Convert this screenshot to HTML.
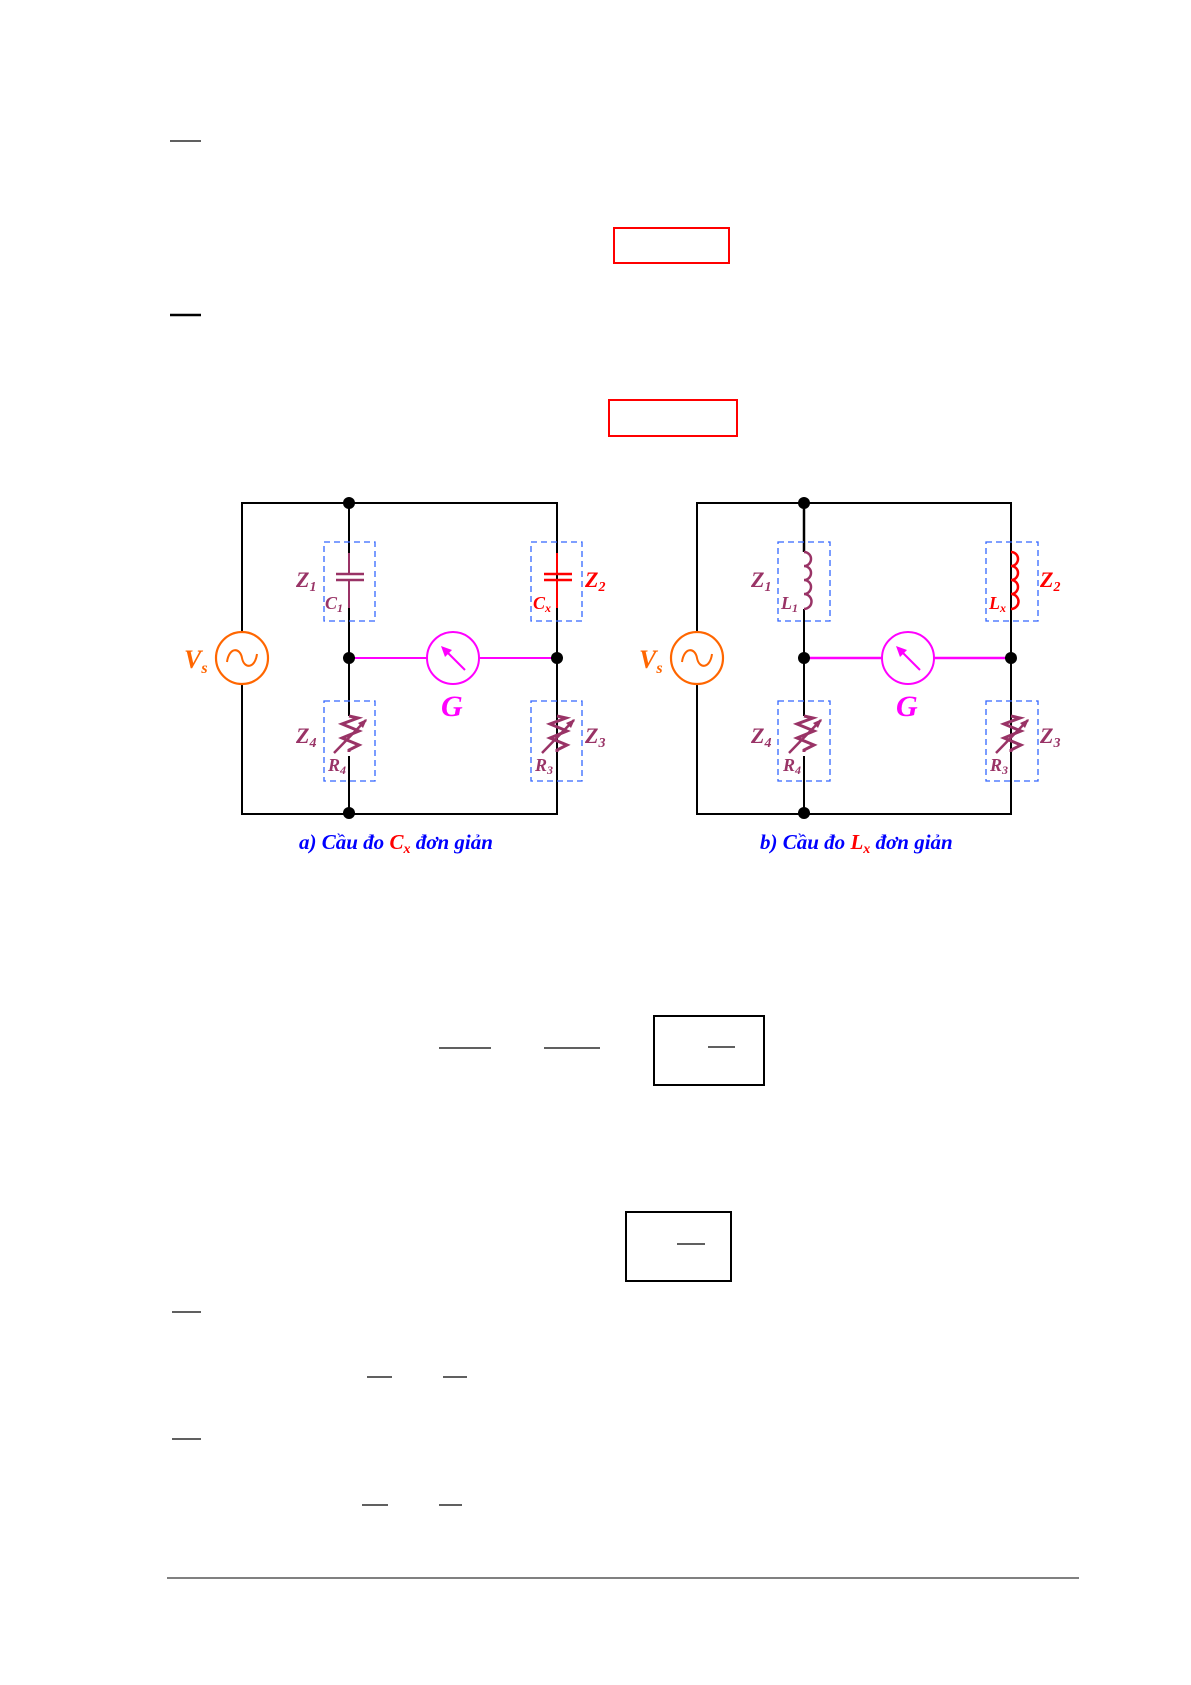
<!DOCTYPE html>
<html><head><meta charset="utf-8"><style>
html,body{margin:0;padding:0;background:#fff;}
svg{display:block;}
text{font-family:"Liberation Serif",serif;font-weight:bold;font-style:italic;}
</style></head><body>
<svg width="1191" height="1685" viewBox="0 0 1191 1685" xmlns="http://www.w3.org/2000/svg">
<line x1="170" y1="141" x2="201" y2="141" stroke="#000" stroke-width="1.2"/>
<rect x="614" y="228" width="115" height="35" fill="none" stroke="#f00" stroke-width="2"/>
<line x1="170" y1="315" x2="201" y2="315" stroke="#000" stroke-width="2.5"/>
<rect x="609" y="400" width="128" height="36" fill="none" stroke="#f00" stroke-width="2"/>

<defs>
<g id="res">
<polyline points="0,-42 9,-40 -7,-34 10,-27 -7,-20 10,-13 0,-8 0,-6" fill="none" stroke="#993366" stroke-width="3"/>
<line x1="-15" y1="-5" x2="17" y2="-38" stroke="#993366" stroke-width="2.5"/>
<polygon points="18,-39 9,-35 14,-30" fill="#993366"/>
</g>
</defs>

<!-- Circuit a -->
<g>
<polyline points="242,632 242,503 557,503 557,814 242,814 242,684" fill="none" stroke="#000" stroke-width="2"/>
<line x1="349" y1="503" x2="349" y2="553" stroke="#000" stroke-width="2"/>
<line x1="349" y1="608" x2="349" y2="716" stroke="#000" stroke-width="2"/>
<line x1="349" y1="756" x2="349" y2="814" stroke="#000" stroke-width="2"/>
<line x1="557" y1="608" x2="557" y2="716" stroke="#000" stroke-width="2"/>
<line x1="349" y1="553" x2="349" y2="574" stroke="#993366" stroke-width="2"/>
<line x1="349" y1="580" x2="349" y2="608" stroke="#993366" stroke-width="2"/>
<line x1="336" y1="574" x2="364" y2="574" stroke="#993366" stroke-width="2.5"/>
<line x1="336" y1="580" x2="364" y2="580" stroke="#993366" stroke-width="2.5"/>
<line x1="557" y1="553" x2="557" y2="574" stroke="#f00" stroke-width="2"/>
<line x1="557" y1="580" x2="557" y2="608" stroke="#f00" stroke-width="2"/>
<line x1="544" y1="574" x2="572" y2="574" stroke="#f00" stroke-width="2.5"/>
<line x1="544" y1="580" x2="572" y2="580" stroke="#f00" stroke-width="2.5"/>
<use href="#res" transform="translate(349,758)"/>
<use href="#res" transform="translate(557,758)"/>
<g fill="none" stroke="#3366ff" stroke-width="1.3" stroke-dasharray="6,4">
<rect x="324" y="542" width="51" height="79"/><rect x="531" y="542" width="51" height="79"/>
<rect x="324" y="701" width="51" height="80"/><rect x="531" y="701" width="51" height="80"/>
</g>
<line x1="349" y1="658" x2="427" y2="658" stroke="#f0f" stroke-width="2"/>
<line x1="479" y1="658" x2="557" y2="658" stroke="#f0f" stroke-width="2"/>
<circle cx="453" cy="658" r="26" fill="#fff" stroke="#f0f" stroke-width="2"/>
<line x1="465" y1="670" x2="443" y2="648" stroke="#f0f" stroke-width="2"/>
<polygon points="441,646 452,650 445,657" fill="#f0f"/>
<circle cx="242" cy="658" r="26" fill="#fff" stroke="#ff6600" stroke-width="2.2"/>
<path d="M227,662 C229,647 240,647 242,658 C244,669 255,669 257,654" fill="none" stroke="#ff6600" stroke-width="2"/>
<circle cx="349" cy="503" r="6"/><circle cx="349" cy="658" r="6"/><circle cx="349" cy="813" r="6"/><circle cx="557" cy="658" r="6"/>
<text x="184" y="668" fill="#ff6600" font-size="26">V<tspan font-size="16" dy="5">s</tspan></text>
<text x="296" y="587" fill="#993366" font-size="22">Z<tspan font-size="14" dy="4">1</tspan></text>
<text x="325" y="609" fill="#993366" font-size="18">C<tspan font-size="12" dy="3">1</tspan></text>
<text x="533" y="609" fill="#f00" font-size="18">C<tspan font-size="12" dy="3">x</tspan></text>
<text x="585" y="587" fill="#f00" font-size="22">Z<tspan font-size="14" dy="4">2</tspan></text>
<text x="296" y="743" fill="#993366" font-size="22">Z<tspan font-size="14" dy="4">4</tspan></text>
<text x="328" y="771" fill="#993366" font-size="18">R<tspan font-size="12" dy="3">4</tspan></text>
<text x="535" y="771" fill="#993366" font-size="18">R<tspan font-size="12" dy="3">3</tspan></text>
<text x="585" y="743" fill="#993366" font-size="22">Z<tspan font-size="14" dy="4">3</tspan></text>
<text x="441" y="716" fill="#f0f" font-size="30">G</text>
<text x="299" y="849" fill="#0000ff" font-size="21">a) Cầu đo <tspan fill="#f00">C<tspan font-size="14" dy="4">x</tspan></tspan><tspan dy="-4"> đơn giản</tspan></text>
</g>

<!-- Circuit b -->
<g>
<polyline points="697,632 697,503 1011,503 1011,814 697,814 697,684" fill="none" stroke="#000" stroke-width="2"/>
<line x1="804" y1="503" x2="804" y2="552" stroke="#000" stroke-width="2.5"/>
<line x1="804" y1="609" x2="804" y2="716" stroke="#000" stroke-width="2"/>
<line x1="804" y1="756" x2="804" y2="814" stroke="#000" stroke-width="2"/>
<line x1="1011" y1="503" x2="1011" y2="552" stroke="#000" stroke-width="2"/>
<line x1="1011" y1="609" x2="1011" y2="716" stroke="#000" stroke-width="2"/>
<path d="M804,552 a7,7 0 0 1 0,14 a7,7 0 0 1 0,14 a7,7 0 0 1 0,14 a7,7 0 0 1 0,15" fill="none" stroke="#993366" stroke-width="2.5"/>
<path d="M1011,552 a7,7 0 0 1 0,14 a7,7 0 0 1 0,14 a7,7 0 0 1 0,14 a7,7 0 0 1 0,15" fill="none" stroke="#f00" stroke-width="2.5"/>
<use href="#res" transform="translate(804,758)"/>
<use href="#res" transform="translate(1011,758)"/>
<g fill="none" stroke="#3366ff" stroke-width="1.3" stroke-dasharray="6,4">
<rect x="778" y="542" width="52" height="79"/><rect x="986" y="542" width="52" height="79"/>
<rect x="778" y="701" width="52" height="80"/><rect x="986" y="701" width="52" height="80"/>
</g>
<line x1="804" y1="658" x2="882" y2="658" stroke="#f0f" stroke-width="2.5"/>
<line x1="934" y1="658" x2="1011" y2="658" stroke="#f0f" stroke-width="2.5"/>
<circle cx="908" cy="658" r="26" fill="#fff" stroke="#f0f" stroke-width="2"/>
<line x1="920" y1="670" x2="898" y2="648" stroke="#f0f" stroke-width="2"/>
<polygon points="896,646 907,650 900,657" fill="#f0f"/>
<circle cx="697" cy="658" r="26" fill="#fff" stroke="#ff6600" stroke-width="2.2"/>
<path d="M682,662 C684,647 695,647 697,658 C699,669 710,669 712,654" fill="none" stroke="#ff6600" stroke-width="2"/>
<circle cx="804" cy="503" r="6"/><circle cx="804" cy="658" r="6"/><circle cx="804" cy="813" r="6"/><circle cx="1011" cy="658" r="6"/>
<text x="639" y="668" fill="#ff6600" font-size="26">V<tspan font-size="16" dy="5">s</tspan></text>
<text x="751" y="587" fill="#993366" font-size="22">Z<tspan font-size="14" dy="4">1</tspan></text>
<text x="781" y="609" fill="#993366" font-size="18">L<tspan font-size="12" dy="3">1</tspan></text>
<text x="989" y="609" fill="#f00" font-size="18">L<tspan font-size="12" dy="3">x</tspan></text>
<text x="1040" y="587" fill="#f00" font-size="22">Z<tspan font-size="14" dy="4">2</tspan></text>
<text x="751" y="743" fill="#993366" font-size="22">Z<tspan font-size="14" dy="4">4</tspan></text>
<text x="783" y="771" fill="#993366" font-size="18">R<tspan font-size="12" dy="3">4</tspan></text>
<text x="990" y="771" fill="#993366" font-size="18">R<tspan font-size="12" dy="3">3</tspan></text>
<text x="1040" y="743" fill="#993366" font-size="22">Z<tspan font-size="14" dy="4">3</tspan></text>
<text x="896" y="716" fill="#f0f" font-size="30">G</text>
<text x="760" y="849" fill="#0000ff" font-size="21">b) Cầu đo <tspan fill="#f00">L<tspan font-size="14" dy="4">x</tspan></tspan><tspan dy="-4"> đơn giản</tspan></text>
</g>

<line x1="439" y1="1048" x2="491" y2="1048" stroke="#000" stroke-width="1.2"/>
<line x1="544" y1="1048" x2="600" y2="1048" stroke="#000" stroke-width="1.2"/>
<rect x="654" y="1016" width="110" height="69" fill="none" stroke="#000" stroke-width="2"/>
<line x1="708" y1="1047" x2="735" y2="1047" stroke="#000" stroke-width="1.2"/>
<rect x="626" y="1212" width="105" height="69" fill="none" stroke="#000" stroke-width="2"/>
<line x1="677" y1="1244" x2="705" y2="1244" stroke="#000" stroke-width="1.2"/>
<line x1="172" y1="1312" x2="201" y2="1312" stroke="#000" stroke-width="1.2"/>
<line x1="367" y1="1377" x2="392" y2="1377" stroke="#000" stroke-width="1.2"/>
<line x1="443" y1="1377" x2="467" y2="1377" stroke="#000" stroke-width="1.2"/>
<line x1="172" y1="1439" x2="201" y2="1439" stroke="#000" stroke-width="1.2"/>
<line x1="362" y1="1505" x2="388" y2="1505" stroke="#000" stroke-width="1.2"/>
<line x1="439" y1="1505" x2="462" y2="1505" stroke="#000" stroke-width="1.2"/>
<line x1="167" y1="1578" x2="1079" y2="1578" stroke="#000" stroke-width="1"/>
</svg>
</body></html>
